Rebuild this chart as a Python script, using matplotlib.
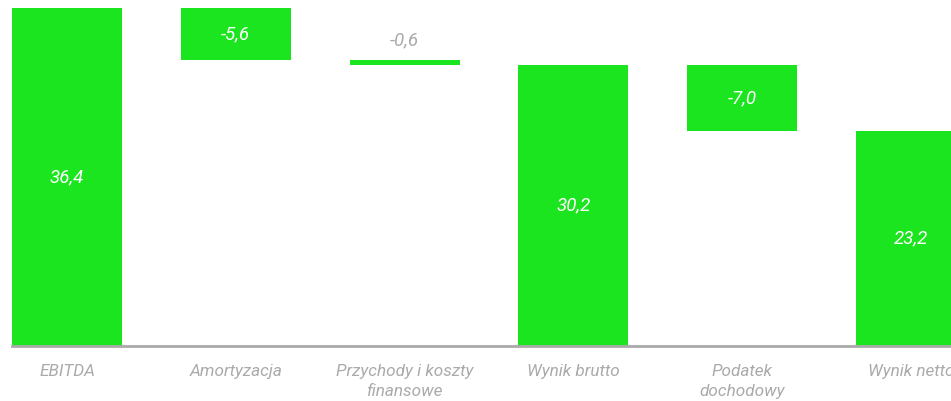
# Wykres kaskadowy: od EBITDA do wyniku netto
import matplotlib.pyplot as plt

categories = ["EBITDA", "Amortyzacja", "Przychody i koszty\nfinansowe",
              "Wynik brutto", "Podatek\ndochodowy", "Wynik netto"]
values = [36.4, -5.6, -0.6, 30.2, -7.0, 23.2]
is_total = [True, False, False, True, False, True]

GREEN = "#1be51e"
GRAY = "#aaaaaa"

plt.rcParams["font.family"] = ["Roboto", "DejaVu Sans"]

fig = plt.figure(figsize=(9.51, 4.01), dpi=100)
ax = fig.add_axes([12 / 951, 55 / 401, 939 / 951, 346 / 401])

bottoms = []
heights = []
running = 0.0
for v, tot in zip(values, is_total):
    if tot:
        bottoms.append(0.0)
        heights.append(v)
        running = v
    else:
        running += v
        bottoms.append(running)
        heights.append(-v)

xs = list(range(len(categories)))
ax.bar(xs, heights, bottom=bottoms, width=0.652, color=GREEN, edgecolor="none")

for x, b, h, v in zip(xs, bottoms, heights, values):
    txt = f"{v:.1f}".replace(".", ",")
    if h < 2:
        ax.text(x, b + h + 1.1, txt, ha="center", va="bottom", color=GRAY,
                fontsize=13.5, fontstyle="italic")
    else:
        ax.text(x, b + h / 2, txt, ha="center", va="center", color="white",
                fontsize=13.5, fontstyle="italic")

ax.set_xlim(-0.326, 5.237)
ax.set_ylim(0, 37.25)
ax.set_xticks(xs)
ax.set_xticklabels(categories, color=GRAY, fontsize=12.3, fontstyle="italic",
                   linespacing=1.45)
ax.tick_params(axis="x", length=0, pad=13)
ax.set_yticks([])
for side in ["top", "right", "left"]:
    ax.spines[side].set_visible(False)
ax.spines["bottom"].set_color(GRAY)
ax.spines["bottom"].set_linewidth(2)

fig.savefig("out.png", dpi=100)
plt.close(fig)
